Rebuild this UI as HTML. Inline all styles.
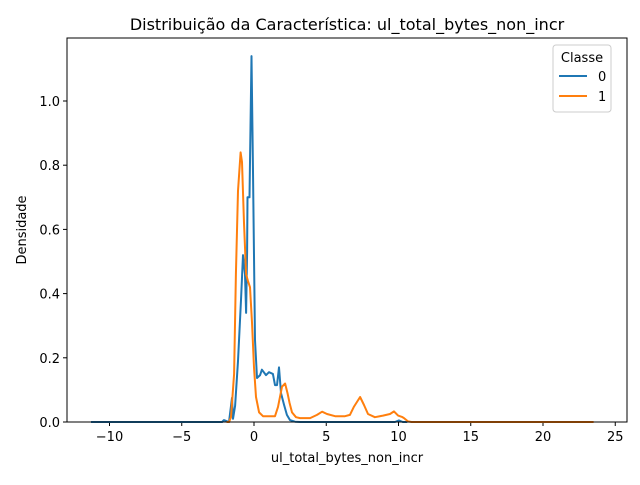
<!DOCTYPE html>
<html><head><meta charset="utf-8"><style>body{margin:0;background:#fff}svg{font-family:"DejaVu Sans","Liberation Sans",sans-serif}</style></head>
<body>
<svg id="chart" width="640" height="480">
<rect width="640" height="480" fill="#fff"/>
<text x="347" y="30" text-anchor="middle" font-size="16">Distribuição da Característica: ul_total_bytes_non_incr</text>
<g id="plot"></g>
<rect x="67" y="38" width="560" height="384" fill="none" stroke="#000" stroke-width="1"/>
<text x="347" y="462" text-anchor="middle" font-size="13">ul_total_bytes_non_incr</text>
<text transform="translate(26,230) rotate(-90)" text-anchor="middle" font-size="13">Densidade</text>
<g>
<rect x="553" y="45" width="58" height="67" rx="3" fill="#fff" fill-opacity="0.8" stroke="#ccc"/>
<text x="582" y="62" text-anchor="middle" font-size="13">Classe</text>
<line x1="559" y1="76" x2="587" y2="76" stroke="#1f77b4" stroke-width="2"/>
<text x="598" y="81" font-size="13">0</text>
<line x1="559" y1="96" x2="587" y2="96" stroke="#ff7f0e" stroke-width="2"/>
<text x="598" y="101" font-size="13">1</text>
</g>
</svg>
<script>
const xTicks=[-10,-5,0,5,10,15,20,25];
const yTicks=[0.0,0.2,0.4,0.6,0.8,1.0];
const xs0=[-11.28,-2.21,-2.08,-1.73,-1.52,-1.45,-1.31,-1.11,-0.90,-0.76,-0.62,-0.55,-0.48,-0.45,-0.31,-0.17,-0.07,0.07,0.21,0.42,0.55,0.83,1.04,1.31,1.45,1.59,1.73,1.87,2.08,2.28,2.49,2.84,3.2,9.76,10.03,10.3,10.6];
const ys0=[0,0,0.006,0,0.075,0.01,0.05,0.19,0.38,0.52,0.46,0.34,0.53,0.70,0.70,1.14,0.78,0.255,0.137,0.146,0.163,0.146,0.155,0.15,0.115,0.115,0.17,0.09,0.053,0.022,0.006,0.001,0,0,0.005,0,0];
const xs1=[-1.9,-1.73,-1.59,-1.38,-1.25,-1.11,-0.93,-0.83,-0.69,-0.55,-0.42,-0.28,-0.14,0,0.14,0.35,0.62,1.45,1.66,1.94,2.15,2.32,2.46,2.63,2.91,3.18,3.88,4.36,4.71,5.05,5.61,6.3,6.64,6.92,7.34,7.61,7.89,8.37,8.93,9.41,9.69,9.97,10.24,10.38,10.66,10.9,23.5];
const ys1=[0,0,0.015,0.15,0.46,0.72,0.84,0.81,0.62,0.46,0.44,0.42,0.31,0.17,0.078,0.03,0.018,0.018,0.047,0.11,0.12,0.09,0.06,0.03,0.015,0.012,0.012,0.022,0.032,0.025,0.018,0.018,0.022,0.048,0.078,0.053,0.025,0.015,0.02,0.025,0.033,0.02,0.016,0.012,0.002,0,0];
const X=v=>254+v*14.45, Y=v=>422-v*321;
const NS="http://www.w3.org/2000/svg", g=document.getElementById('plot');
function mk(t,a){const e=document.createElementNS(NS,t);for(const k in a)e.setAttribute(k,a[k]);g.appendChild(e);return e;}
xTicks.forEach(t=>{const l=mk('line',{x1:X(t),x2:X(t),y1:422,y2:426,stroke:'#000'});


const tx=mk('text',{x:X(t),y:441,'text-anchor':'middle','font-size':13});tx.textContent=t<0?'−'+(-t):t;

});
yTicks.forEach(t=>{const l=mk('line',{x1:63,x2:67,y1:Y(t),y2:Y(t),stroke:'#000'});


const tx=mk('text',{x:60,y:Y(t)+5,'text-anchor':'end','font-size':13});tx.textContent=t.toFixed(1);

});
function line(xs,ys,c,name){const p=mk('path',{d:xs.map((x,i)=>(i?'L':'M')+X(x).toFixed(1)+','+Y(ys[i]).toFixed(1)).join(''),fill:'none',stroke:c,'stroke-width':2,'stroke-linejoin':'round'});

}
line(xs0,ys0,'#1f77b4','density-line-class-0');
line(xs1,ys1,'#ff7f0e','density-line-class-1');
</script>
</body></html>
